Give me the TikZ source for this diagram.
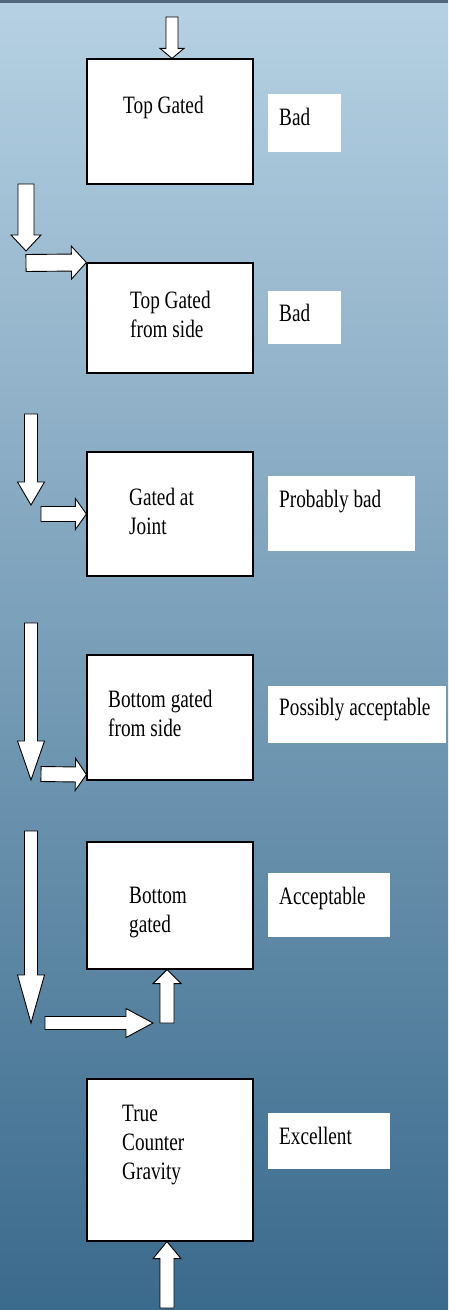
\documentclass[tikz,border=0pt]{standalone}
\usepackage{fontspec}
\setmainfont[FakeStretch=0.77]{Liberation Serif}
\usetikzlibrary{calc}
\definecolor{bgtop}{RGB}{182,209,227}
\definecolor{bgmid}{RGB}{124,163,188}
\definecolor{bgbot}{RGB}{58,106,140}
\definecolor{bgline}{RGB}{84,104,124}
\tikzset{
  box/.style={draw=black, line width=1.2pt, fill=white, minimum width=166pt, inner sep=0pt},
  note/.style={fill=white, inner sep=0pt},
  txt/.style={anchor=base west, align=left, inner sep=0pt, font=\fontsize{25}{29}\selectfont},
  fatarrow/.style={draw=black, line width=0.9pt, fill=white, line join=miter}
}
% tail, tip, half shaft, half head, head length
\newcommand{\fatarrow}[5]{
  \coordinate (h) at ($(#2)!#5!(#1)$);
  \draw[fatarrow] ($(#1)!#3!90:(#2)$) -- ($(h)!#3!90:(#2)$) -- ($(h)!#4!90:(#2)$)
    -- (#2) -- ($(h)!#4!-90:(#2)$) -- ($(h)!#3!-90:(#2)$) -- ($(#1)!#3!-90:(#2)$) -- cycle;
}
\begin{document}
\begin{tikzpicture}[x=1pt, y=-1pt]
   \useasboundingbox (0,0) rectangle (448,1310);
   \shade[top color=bgtop, middle color=bgmid, bottom color=bgbot] (0,0) rectangle (448,1310);
   \fill[bgline] (0,0) rectangle (448,3);

   \node[box, minimum height=125pt] (b1) at (170,121.5) {};
   \node[box, minimum height=110pt] (b2) at (170,318) {};
   \node[box, minimum height=124pt] (b3) at (170,514) {};
   \node[box, minimum height=125pt] (b4) at (170,717.5) {};
   \node[box, minimum height=127pt] (b5) at (170,905.5) {};
   \node[box, minimum height=162pt] (b6) at (170,1160) {};

   \node[note, minimum width=73pt, minimum height=58pt] (l1) at (304.5,123) {};
   \node[note, minimum width=73pt, minimum height=53pt] (l2) at (304.5,317.5) {};
   \node[note, minimum width=147pt, minimum height=75pt] (l3) at (341.5,513.5) {};
   \node[note, minimum width=178pt, minimum height=57pt] (l4) at (357,714.5) {};
   \node[note, minimum width=122pt, minimum height=64pt] (l5) at (329,905) {};
   \node[note, minimum width=122pt, minimum height=56pt] (l6) at (329,1141) {};

   % base of a two or three line text is its last line
   \node[txt] (t1) at (123,113) {Top Gated};
   \node[txt] (t2) at (130,337) {Top Gated\\from side};
   \node[txt] (t3) at (129,534) {Gated at\\Joint};
   \node[txt] (t4) at (108,736) {Bottom gated\\from side};
   \node[txt] (t5) at (129,932) {Bottom\\gated};
   \node[txt] (t6) at (122,1179) {True\\Counter\\Gravity};

   \node[txt] (n1) at (279,125) {Bad};
   \node[txt] (n2) at (279,321) {Bad};
   \node[txt] (n3) at (279,507) {Probably bad};
   \node[txt] (n4) at (279,715) {Possibly acceptable};
   \node[txt] (n5) at (279,904) {Acceptable};
   \node[txt] (n6) at (279,1144) {Excellent};

   \coordinate (a1s) at (172,17);
   \coordinate (a1e) at ($(b1.north)+(2,0)$);
   \fatarrow{a1s}{a1e}{6pt}{12pt}{10pt}
   \coordinate (a2s) at (26,184);
   \coordinate (a2e) at (26,251);
   \fatarrow{a2s}{a2e}{8pt}{15pt}{16pt}
   \coordinate (a3s) at (26,263);
   \fatarrow{a3s}{b2.north west}{8.5pt}{16.5pt}{15pt}
   \coordinate (a4s) at (31,414);
   \coordinate (a4e) at (31,505);
   \fatarrow{a4s}{a4e}{6.5pt}{13.5pt}{23pt}
   \coordinate (a5s) at (41,514);
   \fatarrow{a5s}{b3.west}{7.5pt}{15.5pt}{11pt}
   \coordinate (a6s) at (31,623);
   \coordinate (a6e) at (31,780);
   \fatarrow{a6s}{a6e}{6.5pt}{13.5pt}{39pt}
   \coordinate (a7s) at (41,774);
   \coordinate (a7e) at ($(b4.south west)+(0,-6)$);
   \fatarrow{a7s}{a7e}{7.5pt}{16pt}{11pt}
   \coordinate (a8s) at (31,831);
   \coordinate (a8e) at (31,1023);
   \fatarrow{a8s}{a8e}{6.5pt}{13.5pt}{48pt}
   \coordinate (a9s) at (45,1023);
   \coordinate (a9e) at (153,1023);
   \fatarrow{a9s}{a9e}{6.5pt}{14.5pt}{27pt}
   \coordinate (a10s) at (167,1023);
   \coordinate (a10e) at ($(b5.south)+(-3,0)$);
   \fatarrow{a10s}{a10e}{7pt}{14pt}{14pt}
   \coordinate (a11s) at (167,1308);
   \coordinate (a11e) at ($(b6.south)+(-3,0)$);
   \fatarrow{a11s}{a11e}{7pt}{14pt}{17pt}
\end{tikzpicture}
\end{document}
